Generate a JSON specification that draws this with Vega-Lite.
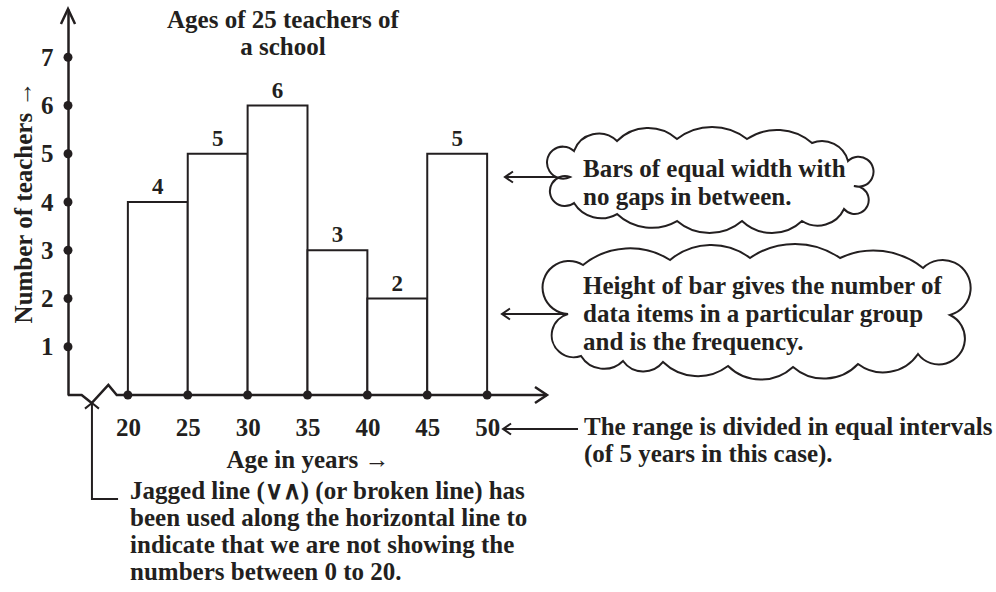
{
  "$schema": "https://vega.github.io/schema/vega-lite/v6.json",
  "width": 479,
  "height": 386,
  "autosize": {"type": "none"},
  "padding": {"left": 68, "top": 9, "right": 449, "bottom": 197},
  "background": "white",
  "config": {"view": {"stroke": null}, "axis": {"grid": false}},
  "datasets": {
    "bars": [
      {"from": 20, "to": 25, "mid": 22.5, "count": 4},
      {"from": 25, "to": 30, "mid": 27.5, "count": 5},
      {"from": 30, "to": 35, "mid": 32.5, "count": 6},
      {"from": 35, "to": 40, "mid": 37.5, "count": 3},
      {"from": 40, "to": 45, "mid": 42.5, "count": 2},
      {"from": 45, "to": 50, "mid": 47.5, "count": 5}
    ],
    "dots": [
      {"x": 15, "y": 1}, {"x": 15, "y": 2}, {"x": 15, "y": 3}, {"x": 15, "y": 4},
      {"x": 15, "y": 5}, {"x": 15, "y": 6}, {"x": 15, "y": 7},
      {"x": 20, "y": 0}, {"x": 25, "y": 0}, {"x": 30, "y": 0}, {"x": 35, "y": 0},
      {"x": 40, "y": 0}, {"x": 45, "y": 0}, {"x": 50, "y": 0}
    ],
    "xaxis": [
      {"i": 1, "x": 15, "y": 0},
      {"i": 2, "x": 16.14, "y": 0},
      {"i": 3, "x": 16.98, "y": -0.166},
      {"i": 4, "x": 18.37, "y": 0.207},
      {"i": 5, "x": 19.07, "y": 0},
      {"i": 6, "x": 55, "y": 0}
    ],
    "connector": [
      {"i": 1, "x": 17.0, "y": -0.166},
      {"i": 2, "x": 17.0, "y": -2.155},
      {"i": 3, "x": 19.18, "y": -2.155}
    ],
    "shafts": [
      {"x": 51.49, "x2": 56.92, "y": 4.518},
      {"x": 51.24, "x2": 56.75, "y": 1.679},
      {"x": 51.33, "x2": 57.59, "y": -0.705}
    ],
    "leftheads": [
      {"x": 51.49, "y": 4.518},
      {"x": 51.24, "y": 1.679},
      {"x": 51.33, "y": -0.705}
    ],
    "uphead": [{"x": 15, "y": 8}],
    "righthead": [{"x": 55, "y": 0}],
    "connhead": [{"x": 17.0, "y": -0.166}],
    "cloud1": [{"x": 68.78, "y": 4.435}],
    "cloud2": [{"x": 73.04, "y": 1.679}],
    "title": [
      {"x": 32.95, "y": 7.606, "text": "Ages of 25 teachers of"},
      {"x": 32.95, "y": 7.047, "text": "a school"}
    ],
    "notes": [
      {"x": 58.01, "y": 4.518, "text": "Bars of equal width with"},
      {"x": 58.01, "y": 3.938, "text": "no gaps in between."},
      {"x": 58.01, "y": 2.093, "text": "Height of bar gives the number of"},
      {"x": 58.01, "y": 1.513, "text": "data items in a particular group"},
      {"x": 58.01, "y": 0.933, "text": "and is the frequency."},
      {"x": 58.09, "y": -0.829, "text": "The range is divided in equal intervals"},
      {"x": 58.09, "y": -1.389, "text": "(of 5 years in this case)."},
      {"x": 20.18, "y": -2.155, "text": "Jagged line (∨∧) (or broken line) has"},
      {"x": 20.18, "y": -2.715, "text": "been used along the horizontal line to"},
      {"x": 20.18, "y": -3.275, "text": "indicate that we are not showing the"},
      {"x": 20.18, "y": -3.834, "text": "numbers between 0 to 20."}
    ]
  },
  "layer": [
    {
      "data": {"name": "bars"},
      "mark": {"type": "rect", "fill": "white", "stroke": "#231f20", "strokeWidth": 2},
      "encoding": {
        "x": {"field": "from", "type": "quantitative", "scale": {"domain": [15, 55], "nice": false, "zero": false},
          "axis": {"values": [20, 25, 30, 35, 40, 45, 50], "domain": false, "ticks": false, "tickSize": 0, "labelPadding": 20,
            "labelFont": "Liberation Serif", "labelFontSize": 25, "labelFontWeight": "bold", "labelColor": "#231f20",
            "labelFlush": false, "labelOverlap": false,
            "title": "Age in years →", "titleFont": "Liberation Serif", "titleFontSize": 25, "titleFontWeight": "bold",
            "titleColor": "#231f20", "titlePadding": 7}},
        "x2": {"field": "to"},
        "y": {"field": "count", "type": "quantitative", "scale": {"domain": [0, 8], "nice": false, "zero": false},
          "axis": {"values": [1, 2, 3, 4, 5, 6, 7], "domain": true, "domainColor": "#231f20", "domainWidth": 2.5,
            "ticks": false, "tickSize": 0, "labelPadding": 15,
            "labelFont": "Liberation Serif", "labelFontSize": 25, "labelFontWeight": "bold", "labelColor": "#231f20",
            "labelFlush": false, "labelOverlap": false,
            "title": "Number of teachers →", "titleFont": "Liberation Serif", "titleFontSize": 25, "titleFontWeight": "bold",
            "titleColor": "#231f20", "titlePadding": 4}},
        "y2": {"datum": 0}
      }
    },
    {
      "data": {"name": "bars"},
      "mark": {"type": "text", "font": "Liberation Serif", "fontWeight": "bold", "fontSize": 23, "color": "#231f20", "baseline": "alphabetic", "dy": -8},
      "encoding": {
        "x": {"field": "mid", "type": "quantitative", "scale": {"domain": [15, 55], "nice": false, "zero": false}},
        "y": {"field": "count", "type": "quantitative", "scale": {"domain": [0, 8], "nice": false, "zero": false}},
        "text": {"field": "count", "type": "quantitative"}
      }
    },
    {
      "data": {"name": "xaxis"},
      "mark": {"type": "line", "color": "#231f20", "strokeWidth": 2.5, "strokeJoin": "miter"},
      "encoding": {
        "x": {"field": "x", "type": "quantitative", "scale": {"domain": [15, 55], "nice": false, "zero": false}},
        "y": {"field": "y", "type": "quantitative", "scale": {"domain": [0, 8], "nice": false, "zero": false}},
        "order": {"field": "i"}
      }
    },
    {
      "data": {"name": "connector"},
      "mark": {"type": "line", "color": "#231f20", "strokeWidth": 2, "strokeJoin": "miter"},
      "encoding": {
        "x": {"field": "x", "type": "quantitative", "scale": {"domain": [15, 55], "nice": false, "zero": false}},
        "y": {"field": "y", "type": "quantitative", "scale": {"domain": [0, 8], "nice": false, "zero": false}},
        "order": {"field": "i"}
      }
    },
    {
      "data": {"name": "shafts"},
      "mark": {"type": "rule", "color": "#231f20", "strokeWidth": 2},
      "encoding": {
        "x": {"field": "x", "type": "quantitative", "scale": {"domain": [15, 55], "nice": false, "zero": false}},
        "x2": {"field": "x2"},
        "y": {"field": "y", "type": "quantitative", "scale": {"domain": [0, 8], "nice": false, "zero": false}}
      }
    },
    {
      "data": {"name": "leftheads"},
      "mark": {"type": "point", "shape": "M1,-0.69L0,0L1,0.69", "size": 256, "filled": false, "stroke": "#231f20", "strokeWidth": 2, "opacity": 1},
      "encoding": {
        "x": {"field": "x", "type": "quantitative", "scale": {"domain": [15, 55], "nice": false, "zero": false}},
        "y": {"field": "y", "type": "quantitative", "scale": {"domain": [0, 8], "nice": false, "zero": false}}
      }
    },
    {
      "data": {"name": "uphead"},
      "mark": {"type": "point", "shape": "M-0.47,1L0,0L0.47,1", "size": 900, "filled": false, "stroke": "#231f20", "strokeWidth": 2.5, "opacity": 1},
      "encoding": {
        "x": {"field": "x", "type": "quantitative", "scale": {"domain": [15, 55], "nice": false, "zero": false}},
        "y": {"field": "y", "type": "quantitative", "scale": {"domain": [0, 8], "nice": false, "zero": false}}
      }
    },
    {
      "data": {"name": "righthead"},
      "mark": {"type": "point", "shape": "M-1,-0.67L0,0L-1,0.67", "size": 576, "filled": false, "stroke": "#231f20", "strokeWidth": 2.5, "opacity": 1},
      "encoding": {
        "x": {"field": "x", "type": "quantitative", "scale": {"domain": [15, 55], "nice": false, "zero": false}},
        "y": {"field": "y", "type": "quantitative", "scale": {"domain": [0, 8], "nice": false, "zero": false}}
      }
    },
    {
      "data": {"name": "connhead"},
      "mark": {"type": "point", "shape": "M-1,0.8L0,0L1,0.8", "size": 196, "filled": false, "stroke": "#231f20", "strokeWidth": 2, "opacity": 1},
      "encoding": {
        "x": {"field": "x", "type": "quantitative", "scale": {"domain": [15, 55], "nice": false, "zero": false}},
        "y": {"field": "y", "type": "quantitative", "scale": {"domain": [0, 8], "nice": false, "zero": false}}
      }
    },
    {
      "data": {"name": "dots"},
      "mark": {"type": "point", "shape": "circle", "size": 80, "filled": true, "color": "#231f20", "opacity": 1},
      "encoding": {
        "x": {"field": "x", "type": "quantitative", "scale": {"domain": [15, 55], "nice": false, "zero": false}},
        "y": {"field": "y", "type": "quantitative", "scale": {"domain": [0, 8], "nice": false, "zero": false}}
      }
    },
    {
      "data": {"name": "cloud1"},
      "mark": {"type": "point", "shape": "M-1.42,-0.04 A0.16,0.16 0 1 1 -1.38,-0.30 A0.262,0.262 0 0 1 -0.95,-0.40 A0.435,0.435 0 0 1 -0.35,-0.42 A0.57,0.57 0 0 1 0.35,-0.42 A0.537,0.537 0 0 1 1.00,-0.38 A0.27,0.27 0 0 1 1.36,-0.20 A0.15,0.15 0 1 1 1.42,0.05 A0.14,0.14 0 1 1 1.32,0.28 A0.29,0.29 0 0 1 0.90,0.40 A0.435,0.435 0 0 1 0.30,0.40 A0.5,0.5 0 0 1 -0.35,0.40 A0.506,0.506 0 0 1 -0.95,0.33 A0.319,0.319 0 0 1 -1.38,0.22 A0.15,0.15 0 1 1 -1.42,-0.04 Z",
        "size": 40000, "filled": true, "fill": "white", "stroke": "#231f20", "strokeWidth": 2, "opacity": 1},
      "encoding": {
        "x": {"field": "x", "type": "quantitative", "scale": {"domain": [15, 55], "nice": false, "zero": false}},
        "y": {"field": "y", "type": "quantitative", "scale": {"domain": [0, 8], "nice": false, "zero": false}}
      }
    },
    {
      "data": {"name": "cloud2"},
      "mark": {"type": "point", "shape": "M-1.95,0 A0.265,0.265 0 1 1 -1.80,-0.49 A0.745,0.745 0 0 1 -0.93,-0.54 A0.64,0.64 0 0 1 -0.13,-0.56 A0.79,0.79 0 0 1 0.77,-0.56 A0.79,0.79 0 0 1 1.60,-0.46 A0.28,0.28 0 1 1 1.87,0.01 A0.26,0.26 0 1 1 1.55,0.40 A0.42,0.42 0 0 1 0.95,0.50 A0.47,0.47 0 0 1 0.30,0.53 A0.47,0.47 0 0 1 -0.35,0.52 A0.50,0.50 0 0 1 -1.00,0.48 A0.25,0.25 0 0 1 -1.40,0.47 A0.27,0.27 0 0 1 -1.82,0.42 A0.22,0.22 0 1 1 -1.95,0 Z",
        "size": 40000, "filled": true, "fill": "white", "stroke": "#231f20", "strokeWidth": 2, "opacity": 1},
      "encoding": {
        "x": {"field": "x", "type": "quantitative", "scale": {"domain": [15, 55], "nice": false, "zero": false}},
        "y": {"field": "y", "type": "quantitative", "scale": {"domain": [0, 8], "nice": false, "zero": false}}
      }
    },
    {
      "data": {"name": "title"},
      "mark": {"type": "text", "font": "Liberation Serif", "fontWeight": "bold", "fontSize": 25, "color": "#231f20", "align": "center", "baseline": "alphabetic"},
      "encoding": {
        "x": {"field": "x", "type": "quantitative", "scale": {"domain": [15, 55], "nice": false, "zero": false}},
        "y": {"field": "y", "type": "quantitative", "scale": {"domain": [0, 8], "nice": false, "zero": false}},
        "text": {"field": "text"}
      }
    },
    {
      "data": {"name": "notes"},
      "mark": {"type": "text", "font": "Liberation Serif", "fontWeight": "bold", "fontSize": 25, "color": "#231f20", "align": "left", "baseline": "alphabetic"},
      "encoding": {
        "x": {"field": "x", "type": "quantitative", "scale": {"domain": [15, 55], "nice": false, "zero": false}},
        "y": {"field": "y", "type": "quantitative", "scale": {"domain": [0, 8], "nice": false, "zero": false}},
        "text": {"field": "text"}
      }
    }
  ]
}
